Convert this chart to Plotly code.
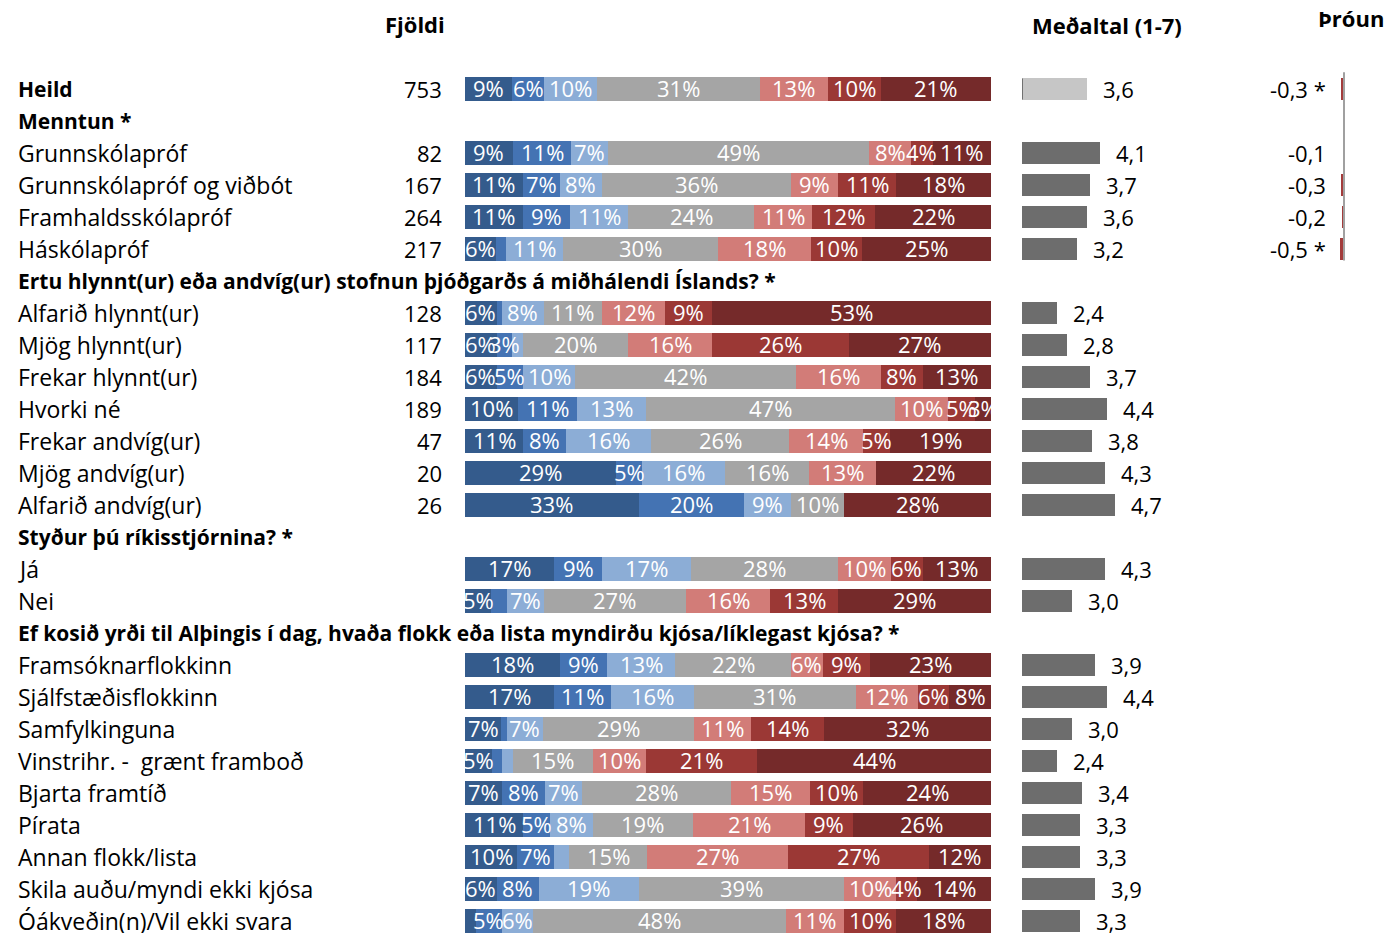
import plotly.graph_objects as go

# ---------------- data ----------------
row_labels = [
    "Heild", "Menntun *", "Grunnskólapróf", "Grunnskólapróf og viðbót",
    "Framhaldsskólapróf", "Háskólapróf",
    "Ertu hlynnt(ur) eða andvíg(ur) stofnun þjóðgarðs á miðhálendi Íslands? *",
    "Alfarið hlynnt(ur)", "Mjög hlynnt(ur)", "Frekar hlynnt(ur)", "Hvorki né",
    "Frekar andvíg(ur)", "Mjög andvíg(ur)", "Alfarið andvíg(ur)",
    "Styður þú ríkisstjórnina? *", "Já", "Nei",
    "Ef kosið yrði til Alþingis í dag, hvaða flokk eða lista myndirðu kjósa/líklegast kjósa? *",
    "Framsóknarflokkinn", "Sjálfstæðisflokkinn", "Samfylkinguna",
    "Vinstrihr. -  grænt framboð", "Bjarta framtíð", "Pírata",
    "Annan flokk/lista", "Skila auðu/myndi ekki kjósa", "Óákveðin(n)/Vil ekki svara",
]
bold_rows = [0, 1, 6, 14, 17]

counts = [753, None, 82, 167, 264, 217, None, 128, 117, 184, 189, 47, 20, 26,
          None, None, None, None, None, None, None, None, None, None, None, None, None]

# 7 answer categories (1..7), per data row (None for header rows)
shares = [
    [9, 6, 10, 31, 13, 10, 21],
    None,
    [9, 11, 7, 49, 8, 4, 11],
    [11, 7, 8, 36, 9, 11, 18],
    [11, 9, 11, 24, 11, 12, 22],
    [6, 2, 11, 30, 18, 10, 25],
    None,
    [6, 1, 8, 11, 12, 9, 53],
    [6, 3, 2, 20, 16, 26, 27],
    [6, 5, 10, 42, 16, 8, 13],
    [10, 11, 13, 47, 10, 5, 3],
    [11, 8, 16, 26, 14, 5, 19],
    [29, 5, 16, 16, 13, 0, 22],
    [33, 20, 9, 10, 0, 0, 28],
    None,
    [17, 9, 17, 28, 10, 6, 13],
    [5, 3, 7, 27, 16, 13, 29],
    None,
    [18, 9, 13, 22, 6, 9, 23],
    [17, 11, 16, 31, 12, 6, 8],
    [7, 1, 7, 29, 11, 14, 32],
    [5, 2, 2, 15, 10, 21, 44],
    [7, 8, 7, 28, 15, 10, 24],
    [11, 5, 8, 19, 21, 9, 26],
    [10, 7, 3, 15, 27, 27, 12],
    [6, 8, 19, 39, 10, 4, 14],
    [2, 5, 6, 48, 11, 10, 18],
]
# segments whose label is hidden in the original (too narrow)
hidden = {(5, 1), (7, 1), (8, 2), (16, 1), (20, 1), (21, 1), (21, 2), (24, 2), (26, 0)}

means = [3.6, None, 4.1, 3.7, 3.6, 3.2, None, 2.4, 2.8, 3.7, 4.4, 3.8, 4.3, 4.7,
         None, 4.3, 3.0, None, 3.9, 4.4, 3.0, 2.4, 3.4, 3.3, 3.3, 3.9, 3.3]

trend_rows = [0, 2, 3, 4, 5]
trend_vals = [-0.3, -0.1, -0.3, -0.2, -0.5]
trend_labels = ["-0,3 *", "-0,1", "-0,3", "-0,2", "-0,5 *"]

seg_colors = ["#345B8C", "#4473B3", "#8CADD6", "#A5A5A5", "#D27C78", "#9B3835", "#752A2A"]

W, H = 1384, 933
FONT = "Open Sans"
FS = 22


def px(x):
    return x / W


def py(y):
    return 1 - y / H


fig = go.Figure()

data_rows = [i for i, s in enumerate(shares) if s is not None]
norm = {i: [v / sum(shares[i]) * 100 for v in shares[i]] for i in data_rows}

# ---------- stacked 100% bars ----------
for k in range(7):
    fig.add_trace(go.Bar(
        x=[norm[i][k] for i in data_rows], y=data_rows, orientation="h",
        xaxis="x", yaxis="y",
        marker=dict(color=seg_colors[k], line=dict(width=0)),
        width=0.75, hoverinfo="skip", showlegend=False,
    ))

ann = []

# segment labels at segment centres, above all bars
for i in data_rows:
    cum = 0
    for k in range(7):
        w = norm[i][k]
        v = shares[i][k]
        if v > 0 and (i, k) not in hidden:
            ann.append(dict(
                xref="x", yref="y", x=cum + w / 2, y=i, xanchor="center", yanchor="middle",
                text=f"{v}%", showarrow=False, yshift=1,
                font=dict(family=FONT, size=FS, color="white"),
            ))
        cum += w

# ---------- mean bars ----------
mrows = [i for i, m in enumerate(means) if m is not None]
mvals = [means[i] for i in mrows]
fig.add_trace(go.Bar(
    x=[m - 1 for m in mvals], base=1, y=mrows, orientation="h",
    xaxis="x2", yaxis="y", width=0.66,
    marker=dict(color=["#C6C6C6" if i == 0 else "#6D6D6D" for i in mrows], line=dict(width=0)),
    hoverinfo="skip", showlegend=False,
))

# ---------- trend bars ----------
fig.add_trace(go.Bar(
    x=trend_vals, y=trend_rows, orientation="h", xaxis="x3", yaxis="y",
    width=0.68, marker=dict(color="#A33B3B", line=dict(width=0)),
    hoverinfo="skip", showlegend=False,
))

for i, lab in enumerate(row_labels):
    b = i in bold_rows
    ann.append(dict(
        xref="paper", yref="y", x=px(16), y=i, xanchor="left", yanchor="middle",
        text=f"<b>{lab}</b>" if b else lab, showarrow=False,
        font=dict(family=FONT, size=21 if b else 23, color="black"),
    ))
    if counts[i] is not None:
        ann.append(dict(
            xref="paper", yref="y", x=px(444), y=i, xanchor="right", yanchor="middle",
            text=str(counts[i]), showarrow=False,
            font=dict(family=FONT, size=FS, color="black"),
        ))
for i, m in zip(mrows, mvals):
    ann.append(dict(
        xref="x2", yref="y", x=m, y=i, xanchor="left", yanchor="middle", xshift=14,
        text=f"{m:.1f}".replace(".", ","), showarrow=False,
        font=dict(family=FONT, size=FS, color="black"),
    ))
for i, t in zip(trend_rows, trend_labels):
    ann.append(dict(
        xref="paper", yref="y", x=px(1328), y=i, xanchor="right", yanchor="middle",
        text=t, showarrow=False, font=dict(family=FONT, size=FS, color="black"),
    ))

for txt, x, y in [("Fjöldi", 415, 24), ("Meðaltal (1-7)", 1107, 25), ("Þróun", 1351, 18)]:
    ann.append(dict(
        xref="paper", yref="paper", x=px(x), y=py(y), xanchor="center", yanchor="middle",
        text=f"<b>{txt}</b>", showarrow=False,
        font=dict(family=FONT, size=FS, color="black"),
    ))

shapes = [
    dict(type="line", xref="x3", yref="y", x0=0, x1=0, y0=-0.52, y1=5.36,
         line=dict(color="#A0A0A0", width=2)),
    dict(type="line", xref="x2", yref="y", x0=1, x1=1, y0=-0.33, y1=0.33,
         line=dict(color="#555555", width=1.5)),
]

fig.update_layout(
    width=W, height=H, autosize=False,
    margin=dict(l=0, r=0, t=0, b=0),
    paper_bgcolor="white", plot_bgcolor="rgba(0,0,0,0)",
    barmode="stack", bargap=0,
    xaxis=dict(domain=[px(465), px(991)], range=[0, 100], visible=False, anchor="y", fixedrange=True),
    xaxis2=dict(domain=[px(1022), px(1172)], range=[1, 7], visible=False, anchor="y", fixedrange=True),
    xaxis3=dict(domain=[px(1317), px(1353)], range=[-3, 1], visible=False, anchor="y", fixedrange=True),
    yaxis=dict(domain=[0, 1], range=[(H - 89) / 32, -89 / 32], visible=False, fixedrange=True),
    annotations=ann, shapes=shapes,
    font=dict(family=FONT),
)

fig.write_html(
    "out.html",
    config={"displayModeBar": False},
    post_script="document.body.style.margin='0px';document.body.style.overflow='hidden';",
)
